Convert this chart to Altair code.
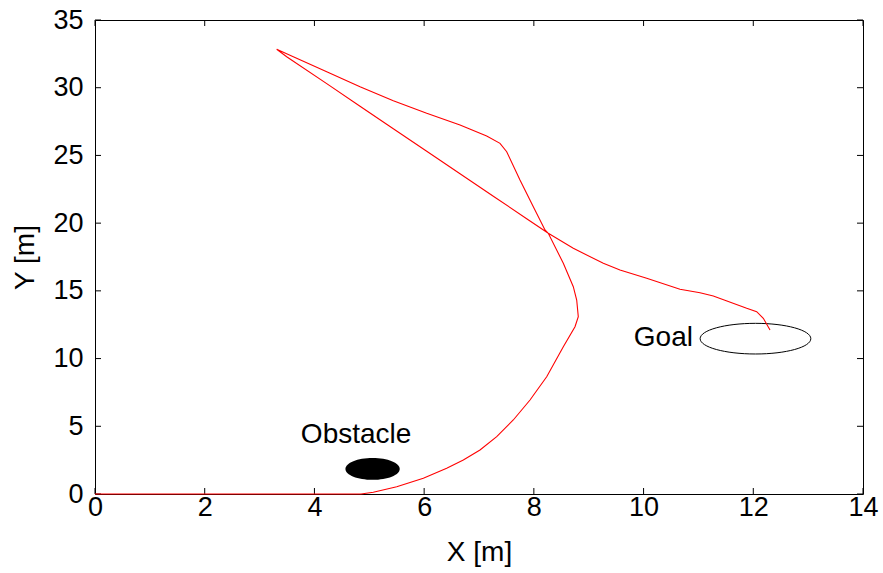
import altair as alt
import pandas as pd

# Trajectory, in path order
path_x = [0.0, 4.85, 5.073, 5.500, 5.985, 6.411, 6.714, 7.018, 7.323, 7.625, 7.930, 8.234,
          8.537, 8.750, 8.810, 8.781, 8.719, 8.537, 8.263, 8.203, 7.990, 7.747, 7.505,
          7.383, 7.140, 6.654, 6.047, 5.438, 4.831, 4.224, 3.615, 3.312,
          3.494, 4.224, 4.831, 5.438, 6.047, 6.654, 7.261, 7.869, 8.263, 8.719, 9.266,
          9.570, 10.057, 10.664, 11.029, 11.271, 11.880, 12.062, 12.183, 12.305]
path_y = [0.0, 0.0, 0.126, 0.539, 1.159, 1.898, 2.511, 3.249, 4.231, 5.464, 6.941, 8.661,
          10.876, 12.353, 13.092, 14.325, 15.307, 17.035, 19.250, 19.494, 21.214, 23.185, 25.275,
          25.895, 26.434, 27.247, 28.110, 29.041, 30.075, 31.182, 32.290, 32.836,
          32.290, 30.30, 28.63, 26.97, 25.31, 23.65, 21.99, 20.33, 19.250, 18.142, 17.035,
          16.540, 15.927, 15.115, 14.864, 14.620, 13.712, 13.461, 12.973, 12.110]

# Objects
obstacle_xy = (5.06, 1.85)
goal_xy = (12.04, 11.47)

label_text = ["Obstacle", "Goal"]
label_x = [4.76, 10.90]
label_y = [3.77, 10.93]

x_ticks = [0, 2, 4, 6, 8, 10, 12, 14]
y_ticks = [0, 5, 10, 15, 20, 25, 30, 35]

W, H = 768, 474
FONT = "Liberation Sans"
FS = 27
FS_TEXT = 28

def ellipse_path(r):
    k = 0.5523
    return (f"M -1 0 C -1 {-k*r:.4f} {-k:.4f} {-r:.4f} 0 {-r:.4f} "
            f"C {k:.4f} {-r:.4f} 1 {-k*r:.4f} 1 0 "
            f"C 1 {k*r:.4f} {k:.4f} {r:.4f} 0 {r:.4f} "
            f"C {-k:.4f} {r:.4f} -1 {k*r:.4f} -1 0 Z")

xs = alt.Scale(domain=[0, 14], nice=False, zero=False)
ys = alt.Scale(domain=[0, 35], nice=False, zero=False)

path_df = pd.DataFrame({"x": path_x, "y": path_y, "i": list(range(len(path_x)))})

x_axis = alt.Axis(values=x_ticks, format="d", ticks=False, domain=False, grid=False,
                  labelFont=FONT, labelFontSize=FS, labelColor="black", labelPadding=0,
                  labelFlush=False, labelOverlap=False,
                  title="X [m]", titleFont=FONT, titleFontSize=FS_TEXT, titleFontWeight="normal",
                  titleColor="black", titleY=66, titleBaseline="alphabetic")
y_axis = alt.Axis(values=y_ticks, format="d", ticks=False, domain=False, grid=False,
                  labelFont=FONT, labelFontSize=FS, labelColor="black", labelPadding=12,
                  labelFlush=False, labelOverlap=False,
                  title="Y [m]", titleFont=FONT, titleFontSize=FS_TEXT, titleFontWeight="normal",
                  titleColor="black", titleX=-62, titleBaseline="alphabetic")

base_line = alt.Chart(path_df).mark_line(color="#ff0000", strokeWidth=1.1).encode(
    x=alt.X("x:Q", scale=xs, axis=x_axis),
    y=alt.Y("y:Q", scale=ys, axis=y_axis),
    order="i:Q",
)

obs_df = pd.DataFrame({"x": [obstacle_xy[0]], "y": [obstacle_xy[1]]})
obstacle = alt.Chart(obs_df).mark_point(
    shape=ellipse_path(0.40), size=2950, filled=True, color="black", opacity=1, strokeWidth=0
).encode(x=alt.X("x:Q", scale=xs), y=alt.Y("y:Q", scale=ys))

goal_df = pd.DataFrame({"x": [goal_xy[0]], "y": [goal_xy[1]]})
goal = alt.Chart(goal_df).mark_point(
    shape=ellipse_path(0.277), size=12250, filled=False, color="black", opacity=1, strokeWidth=1
).encode(x=alt.X("x:Q", scale=xs), y=alt.Y("y:Q", scale=ys))

lab_df = pd.DataFrame({"t": label_text, "x": label_x, "y": label_y})
lab_obs = alt.Chart(lab_df.iloc[[0]]).mark_text(
    font=FONT, fontSize=FS_TEXT, color="black", align="center", baseline="alphabetic"
).encode(x=alt.X("x:Q", scale=xs), y=alt.Y("y:Q", scale=ys), text="t:N")
lab_goal = alt.Chart(lab_df.iloc[[1]]).mark_text(
    font=FONT, fontSize=FS_TEXT, color="black", align="right", baseline="alphabetic"
).encode(x=alt.X("x:Q", scale=xs), y=alt.Y("y:Q", scale=ys), text="t:N")

xt_df = pd.DataFrame({"v": x_ticks})
yt_df = pd.DataFrame({"v": y_ticks})
tick_bottom = alt.Chart(xt_df).mark_rule(color="black", strokeWidth=1).encode(
    x=alt.X("v:Q", scale=xs), y=alt.value(H), y2=alt.value(H - 6))
tick_top = alt.Chart(xt_df).mark_rule(color="black", strokeWidth=1).encode(
    x=alt.X("v:Q", scale=xs), y=alt.value(0), y2=alt.value(6))
tick_left = alt.Chart(yt_df).mark_rule(color="black", strokeWidth=1).encode(
    y=alt.Y("v:Q", scale=ys), x=alt.value(0), x2=alt.value(6))
tick_right = alt.Chart(yt_df).mark_rule(color="black", strokeWidth=1).encode(
    y=alt.Y("v:Q", scale=ys), x=alt.value(W), x2=alt.value(W - 6))

chart = alt.layer(
    tick_bottom, tick_top, tick_left, tick_right,
    obstacle, goal, lab_obs, lab_goal, base_line
).properties(
    width=W, height=H,
    autosize=alt.AutoSizeParams(type="none"),
    padding={"left": 95, "top": 20, "right": 20, "bottom": 79},
    background="white",
).configure_view(stroke="black", strokeWidth=1)

chart.save("out.html", embed_options={"renderer": "svg", "actions": False})
